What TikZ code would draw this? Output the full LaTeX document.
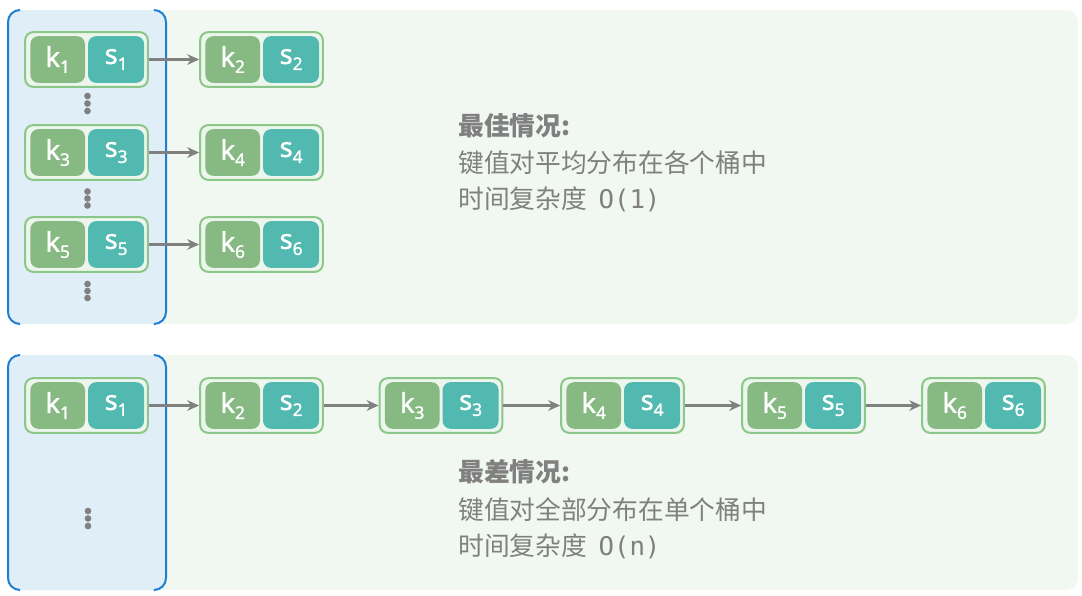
\documentclass[tikz,border=0pt]{standalone}
\usepackage{fontspec}
\newfontfamily\cjk{Noto Sans CJK SC}
\newfontfamily\lat{Noto Sans}[FakeBold=1.3]
\newfontfamily\mono{DejaVu Sans Mono}
\usetikzlibrary{arrows.meta}
\definecolor{panelg}{HTML}{F1F7F1}
\definecolor{panelb}{HTML}{E0EEF8}
\definecolor{bborder}{HTML}{1F7FD0}
\definecolor{kcol}{HTML}{86BA82}
\definecolor{scol}{HTML}{52B9B0}
\definecolor{obord}{HTML}{8CC78A}
\definecolor{ofill}{HTML}{EDF6EC}
\definecolor{txt}{HTML}{808080}
\tikzset{
  outerbox/.style={draw=obord, line width=1.5pt, fill=ofill, rounded corners=6pt, minimum width=92pt, minimum height=41pt, inner sep=0pt},
  kbox/.style={fill=kcol, rounded corners=6pt, minimum width=41pt, minimum height=35pt, inner sep=0pt, text=white, font=\lat\bfseries\fontsize{20.5}{20}\selectfont},
  sbox/.style={fill=scol, rounded corners=6pt, minimum width=42pt, minimum height=35pt, inner sep=0pt, text=white, font=\lat\bfseries\fontsize{20.5}{20}\selectfont},
  arr/.style={draw=txt, line width=1.8pt, -{Stealth[length=9pt,width=8pt]}},
  dotn/.style={circle, fill=txt, inner sep=0pt, minimum size=5pt},
  label/.style={anchor=west, text=txt, inner sep=0pt, font=\cjk\fontsize{19.3}{22}\selectfont},
}
\newcommand{\sub}[1]{{\fontsize{13}{13}\selectfont\raisebox{-4.5pt}{#1}}}
\newcommand{\kvpair}[4]{%
  \node[outerbox] (#1) at (#2,#3) {};
  \node[kbox] (#1k) at ([xshift=-21.6pt]#1.center) {k\sub{#4}};
  \node[sbox] (#1s) at ([xshift=22.2pt]#1.center) {s\sub{#4}};
}
\begin{document}
\begin{tikzpicture}[x=0.75pt,y=-0.75pt]
\useasboundingbox (0,0) rectangle (1082,596);
% panels
\fill[panelg, rounded corners=9pt] (8,10) rectangle (1078,324);
\fill[panelg, rounded corners=9pt] (8,355) rectangle (1078,590);
\fill[panelb, rounded corners=9pt] (8,10) rectangle (166,324);
\fill[panelb, rounded corners=9pt] (8,355) rectangle (166,590);
\foreach \ya/\yb in {10/324, 355/590}{
  \draw[bborder, line width=1.5pt, rounded corners=9pt] (19,\ya) -- (8,\ya) -- (8,\yb) -- (19,\yb);
  \draw[bborder, line width=1.5pt, rounded corners=9pt] (155,\ya) -- (166,\ya) -- (166,\yb) -- (155,\yb);
}
% top panel
\kvpair{a1}{86.5}{59.5}{1}
\kvpair{a2}{261.5}{59.5}{2}
\kvpair{a3}{86.5}{152.5}{3}
\kvpair{a4}{261.5}{152.5}{4}
\kvpair{a5}{86.5}{244.5}{5}
\kvpair{a6}{261.5}{244.5}{6}
\draw[arr] (a1.east) -- (a2.west);
\draw[arr] (a3.east) -- (a4.west);
\draw[arr] (a5.east) -- (a6.west);
\foreach \n/\y in {d1/96, d2/103.5, d3/111, d4/191.5, d5/198.5, d6/205.5, d7/284, d8/291, d9/298}{
  \node[dotn] (\n) at (87.5,\y) {};
}
\node[label] (t1) at (458,126) {\bfseries 最佳情况:};
\node[label] (t2) at (458,162.5) {键值对平均分布在各个桶中};
\node[label] (t3) at (458,199) {时间复杂度\hspace{0.45em}{\mono O(1)}};
% bottom panel
\kvpair{b1}{86.5}{405.5}{1}
\kvpair{b2}{261.5}{405.5}{2}
\kvpair{b3}{441}{405.5}{3}
\kvpair{b4}{622.5}{405.5}{4}
\kvpair{b5}{803.5}{405.5}{5}
\kvpair{b6}{983.5}{405.5}{6}
\draw[arr] (b1.east) -- (b2.west);
\draw[arr] (b2.east) -- (b3.west);
\draw[arr] (b3.east) -- (b4.west);
\draw[arr] (b4.east) -- (b5.west);
\draw[arr] (b5.east) -- (b6.west);
\foreach \n/\y in {e1/511, e2/518.5, e3/526}{
  \node[dotn] (\n) at (88,\y) {};
}
\node[label] (u1) at (458,472) {\bfseries 最差情况:};
\node[label] (u2) at (458,509.5) {键值对全部分布在单个桶中};
\node[label] (u3) at (458,546.5) {时间复杂度\hspace{0.45em}{\mono O(n)}};
\end{tikzpicture}
\end{document}
